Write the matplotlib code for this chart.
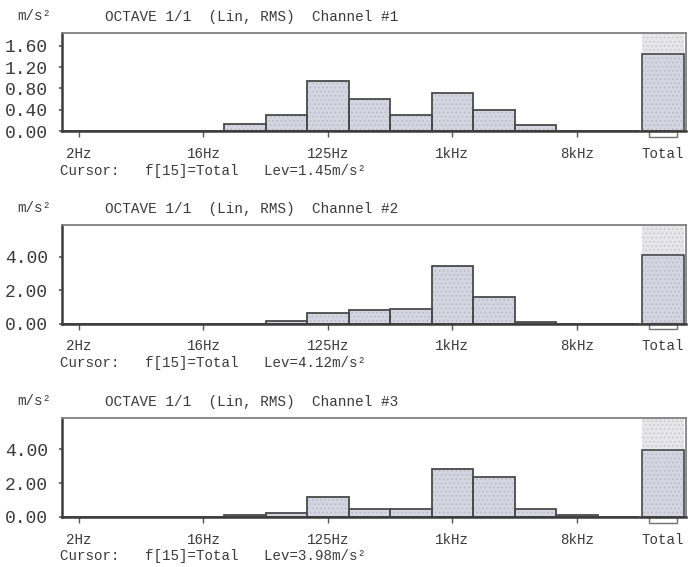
import matplotlib
matplotlib.use('Agg')
import matplotlib.pyplot as plt
from matplotlib.patches import Rectangle
import matplotlib.transforms as mtransforms

# octave band levels, m/s^2
bands = ['2Hz', '4Hz', '8Hz', '16Hz', '31.5Hz', '63Hz', '125Hz', '250Hz',
         '500Hz', '1kHz', '2kHz', '4kHz', '8kHz', '16kHz']
shown_labels = ['2Hz', '16Hz', '125Hz', '1kHz', '8kHz']

ch1 = [0, 0, 0, 0, 0.14, 0.30, 0.93, 0.60, 0.30, 0.72, 0.40, 0.11, 0, 0]
ch2 = [0, 0, 0, 0, 0.0, 0.17, 0.65, 0.81, 0.85, 3.46, 1.59, 0.08, 0, 0]
ch3 = [0, 0, 0, 0, 0.08, 0.20, 1.19, 0.44, 0.48, 2.82, 2.38, 0.44, 0.12, 0]
totals = [1.45, 4.12, 3.98]
channels = [ch1, ch2, ch3]
y_top = [1.84, 5.9, 5.86]
y_ticks = [[0, 0.4, 0.8, 1.2, 1.6], [0, 2, 4], [0, 2, 4]]

W, H = 697, 567
FONT = 'Liberation Mono'
fill = '#d5d5e1'
fill_top = '#e6e6ea'
edge = '#4a4a4a'
text_col = '#3a3a3a'

plt.rcParams['hatch.linewidth'] = 0.5

fig = plt.figure(figsize=(W / 100, H / 100), dpi=100)

# axes boxes in pixels: (top, bottom)
boxes = [(33, 131), (225, 323.5), (418, 516.7)]
left_px, right_px = 62, 686

total_pos = 14.08
for i, (top, bottom) in enumerate(boxes):
    ax = fig.add_axes([left_px / W, 1 - bottom / H, (right_px - left_px) / W, (bottom - top) / H])
    vals = channels[i]
    xs = list(range(len(bands)))

    ax.bar(xs, vals, width=1.0, color=fill, edgecolor='#b4b4c4', linewidth=0, hatch='....')
    ax.bar(xs, vals, width=1.0, facecolor='none', edgecolor=edge, linewidth=1.3)

    ax.bar([total_pos], [y_top[i] - totals[i]], bottom=[totals[i]], width=1.0,
           color=fill_top, edgecolor='#c0c0c8', linewidth=0, hatch='....')
    ax.bar([total_pos], [totals[i]], width=1.0, color=fill, edgecolor='#b4b4c4',
           linewidth=0, hatch='....')
    ax.bar([total_pos], [totals[i]], width=1.0, facecolor='none', edgecolor=edge, linewidth=1.2)

    # cursor marker under the Total bar
    trans = mtransforms.blended_transform_factory(ax.transData, ax.transAxes)
    ax.add_patch(Rectangle((total_pos - 0.34, -0.06), 0.68, 0.06, transform=trans,
                           facecolor='white', edgecolor='#707070', linewidth=1.0, clip_on=False))

    ax.set_xlim(-0.41, 14.63)
    ax.set_ylim(0, y_top[i])

    ax.set_xticks([bands.index(b) for b in shown_labels])
    ax.set_xticklabels(shown_labels)
    ax.set_xticks([total_pos], labels=['Total'], minor=True)
    ax.tick_params(axis='x', which='major', length=4, width=1, color='#555555', pad=7.5,
                   labelsize=10.2, labelcolor=text_col)
    ax.tick_params(axis='x', which='minor', length=0, pad=11.5, labelsize=10.2, labelcolor=text_col)
    for lab in ax.get_xticklabels(which='both'):
        lab.set_family(FONT)

    ax.set_yticks(y_ticks[i])
    ax.set_yticklabels([f'{t:.2f}' for t in y_ticks[i]])
    ax.tick_params(axis='y', length=2, width=1.2, color='#555555', pad=8,
                   labelsize=13, labelcolor=text_col)
    for lab in ax.get_yticklabels():
        lab.set_family(FONT)

    for side in ['left', 'bottom']:
        ax.spines[side].set_color('#3c3c3c')
        ax.spines[side].set_linewidth(1.8)
    for side in ['top', 'right']:
        ax.spines[side].set_color('#808080')
        ax.spines[side].set_linewidth(1.3)

    fig.text(17 / W, 1 - (top - 17) / H, 'm/s²', family=FONT, fontsize=10.2,
             color=text_col, va='center', ha='left')
    fig.text(105 / W, 1 - (top - 16) / H, f'OCTAVE 1/1  (Lin, RMS)  Channel #{i + 1}',
             family=FONT, fontsize=10.4, color=text_col, va='center', ha='left')
    fig.text(60 / W, 1 - (bottom + 39.5) / H,
             f'Cursor:   f[15]=Total   Lev={totals[i]:.2f}m/s²',
             family=FONT, fontsize=10.2, color=text_col, va='center', ha='left')

plt.savefig('out.png', dpi=100)
plt.close('all')
